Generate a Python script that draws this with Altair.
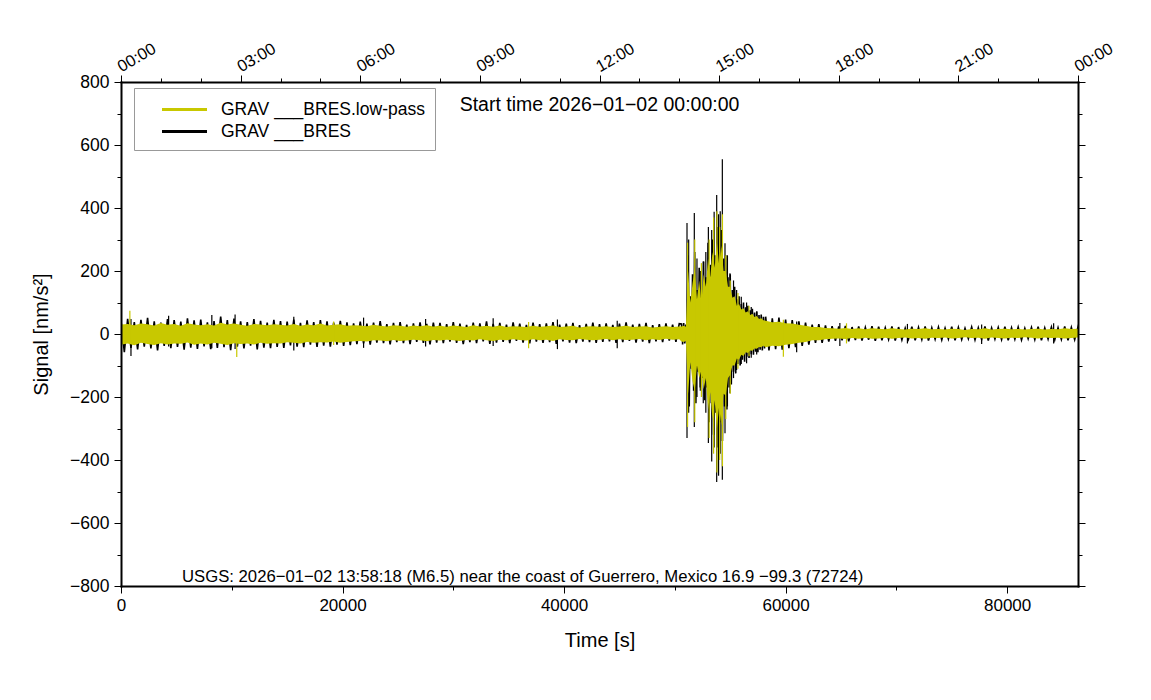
import altair as alt
import pandas as pd

# ---------------- data ----------------
# trace extremes (nm/s^2) on a time grid (s): max at each grid time, min half a step later
pre_t = list(range(0, 50401, 600))          # 85 samples
event_t = list(range(50600, 58001, 200))    # 38 samples
post_t = list(range(58200, 86401, 600))     # 48 samples

black_hi_pre = [42, 48, 38, 45, 51, 40, 36, 47, 44, 39, 50, 43,
                46, 37, 41, 55, 44, 49, 40, 38, 47, 42, 36, 45,
                41, 39, 46, 35, 43, 38, 44, 40, 36, 42, 37, 34,
                39, 33, 36, 41, 31, 35, 38, 30, 34, 37, 32, 36,
                35, 31, 38, 33, 29, 36, 34, 40, 32, 35, 30, 37,
                33, 29, 36, 31, 34, 38, 30, 33, 35, 28, 32, 36,
                31, 34, 29, 33, 37, 30, 32, 35, 28, 31, 34, 30, 33]
black_lo_pre = [-58, -44, -49, -40, -46, -52, -38, -45, -41, -50, -43, -47,
                -39, -48, -44, -42, -51, -40, -46, -37, -49, -43, -45, -41,
                -44, -36, -40, -42, -34, -41, -37, -40, -34, -38, -35, -32,
                -30, -34, -27, -29, -33, -26, -29, -32, -25, -28, -33, -27,
                -29, -24, -28, -32, -26, -29, -23, -31, -27, -25, -29, -22,
                -27, -30, -24, -28, -26, -31, -23, -27, -29, -24, -26, -28,
                -25, -23, -28, -26, -22, -27, -24, -29, -23, -26, -21, -25, -24]
yellow_hi_pre = [30, 32, 28, 33, 31, 27, 35, 29, 32, 26, 34, 30,
                 28, 31, 27, 36, 30, 33, 29, 26, 32, 30, 28, 31,
                 29, 27, 32, 26, 30, 28, 33, 27, 29, 31, 26, 28,
                 27, 25, 29, 26, 24, 28, 26, 23, 27, 25, 28, 24,
                 26, 23, 27, 25, 22, 28, 24, 26, 23, 27, 22, 25,
                 24, 22, 26, 23, 25, 27, 22, 24, 26, 21, 24, 25,
                 23, 25, 22, 24, 26, 22, 24, 25, 21, 23, 25, 22, 24]
yellow_lo_pre = [-34, -30, -36, -28, -32, -35, -29, -33, -30, -31, -27, -34,
                 -30, -33, -28, -31, -35, -29, -32, -30, -33, -28, -31, -29,
                 -30, -26, -28, -30, -25, -28, -26, -27, -24, -28, -25, -23,
                 -22, -24, -20, -21, -23, -19, -22, -21, -18, -20, -23, -19,
                 -21, -18, -20, -22, -19, -21, -17, -20, -22, -18, -20, -17,
                 -19, -21, -17, -20, -18, -22, -17, -19, -20, -16, -18, -20,
                 -18, -16, -20, -17, -19, -18, -16, -20, -17, -19, -15, -18, -17]

black_hi_event = [32, 35, 30, 250, 120, 190, 260, 140, 210, 120, 230, 180, 290,
                  220, 300, 250, 340, 260, 330, 240, 250, 180, 190,
                  140, 150, 110, 120, 95, 100, 85, 90, 75, 80,
                  68, 72, 60, 62, 55]
black_lo_event = [-33, -30, -31, -230, -110, -180, -220, -120, -170, -140, -210, -170, -280,
                  -220, -320, -250, -360, -280, -340, -230, -240, -170, -160,
                  -120, -125, -95, -100, -82, -88, -72, -76, -64, -66,
                  -56, -58, -50, -52, -46]
yellow_hi_event = [24, 26, 23, 200, 100, 160, 210, 110, 170, 100, 190, 150, 240,
                   180, 260, 210, 290, 220, 280, 200, 200, 150, 150,
                   115, 120, 90, 95, 78, 82, 68, 72, 60, 64,
                   54, 57, 48, 50, 44]
yellow_lo_event = [-24, -25, -22, -190, -90, -150, -180, -100, -140, -115, -175, -140, -240,
                   -185, -270, -210, -300, -230, -290, -190, -195, -140, -130,
                   -100, -100, -78, -82, -66, -70, -58, -60, -52, -53,
                   -46, -47, -41, -42, -37]

black_hi_post = [55, 50, 52, 46, 44, 40, 36, 30, 31, 27, 25, 24, 26, 22, 24, 21,
                 25, 23, 20, 24, 22, 19, 23, 21, 24, 20, 22, 19, 23, 21, 18, 22,
                 20, 24, 19, 21, 23, 20, 22, 18, 21, 23, 19, 22, 20, 24, 21, 22]
black_lo_post = [-52, -48, -50, -45, -42, -38, -34, -28, -28, -24, -22, -20, -23, -19, -21, -18,
                 -22, -20, -17, -21, -19, -16, -20, -18, -21, -17, -19, -16, -20, -18, -15, -19,
                 -17, -21, -16, -18, -20, -17, -19, -15, -18, -20, -16, -19, -17, -20, -18, -16]
yellow_hi_post = [42, 37, 39, 34, 33, 29, 26, 22, 22, 19, 18, 17, 19, 16, 18, 15,
                  18, 17, 15, 18, 16, 14, 17, 16, 18, 15, 16, 14, 17, 16, 13, 16,
                  15, 18, 14, 16, 17, 15, 16, 14, 16, 17, 14, 16, 15, 18, 16, 17]
yellow_lo_post = [-42, -37, -39, -34, -32, -28, -25, -20, -20, -17, -15, -14, -16, -13, -15, -12,
                  -15, -14, -12, -15, -13, -11, -14, -13, -15, -12, -13, -11, -14, -13, -10, -13,
                  -12, -15, -11, -13, -14, -12, -13, -10, -12, -14, -11, -13, -12, -14, -13, -11]

# individual large excursions (time s, max, min)
spike_t_black = [900, 4300, 8200, 10300, 15600, 21900, 27500, 33600, 39400, 44800,
                 51100, 51250, 51760, 52000, 52300, 52570, 52800, 53030, 53330, 53550,
                 53780, 53950, 54100, 54290, 54530, 54750, 54980, 55300, 55580, 56000,
                 56480, 56900, 57390, 61000, 64900, 71000, 77700, 84200]
spike_hi_black = [48, 58, 60, 62, 55, 52, 48, 50, 46, 42,
                  352, 300, 384, 240, 200, 230, 260, 340, 330, 388,
                  441, 380, 390, 555, 288, 250, 193, 170, 140, 118,
                  100, 86, 70, 40, 35, 32, 30, 34]
spike_lo_black = [-70, -40, -45, -48, -52, -44, -40, -38, -48, -45,
                  -330, -250, -295, -200, -180, -220, -250, -346, -405, -360,
                  -470, -450, -380, -463, -315, -230, -188, -140, -114, -95,
                  -93, -75, -65, -58, -38, -30, -32, -30]
spike_t_yellow = [800, 10450, 19200, 36800, 51150, 51800, 52400, 53100, 53500, 53800,
                  54050, 54300, 54600, 55000, 55700, 56700, 59800, 65500]
spike_hi_yellow = [74, 28, 40, 38, 290, 300, 225, 300, 370, 390,
                   340, 380, 250, 170, 130, 90, 45, 34]
spike_lo_yellow = [-30, -73, -35, -45, -295, -280, -200, -330, -380, -440,
                   -400, -420, -270, -190, -110, -70, -72, -30]

series_names = ["GRAV ___BRES.low-pass", "GRAV ___BRES"]
series_colors = ["#c8c800", "#000000"]

x_major = [0, 20000, 40000, 60000, 80000]
x_minor = [10000, 30000, 50000, 70000]
hour_major = [0, 10800, 21600, 32400, 43200, 54000, 64800, 75600, 86400]
hour_minor = [3600 * h for h in range(25)]
y_major = [-800, -600, -400, -200, 0, 200, 400, 600, 800]
y_minor = [-700, -500, -300, -100, 100, 300, 500, 700]

start_label = "Start time 2026\u221201\u221202 00:00:00"
event_label = "USGS: 2026\u221201\u221202 13:58:18 (M6.5) near the coast of Guerrero, Mexico 16.9 \u221299.3 (72724)"

# ---------------- build tables ----------------
grid_t = pre_t + event_t + post_t
half_step = [300] * len(pre_t) + [100] * len(event_t) + [300] * len(post_t)
bhi = black_hi_pre + black_hi_event + black_hi_post
blo = black_lo_pre + black_lo_event + black_lo_post
yhi = yellow_hi_pre + yellow_hi_event + yellow_hi_post
ylo = yellow_lo_pre + yellow_lo_event + yellow_lo_post

band = pd.DataFrame({"t": grid_t, "yhi": yhi, "ylo": ylo})

trace_t, trace_v = [], []
for t, h, hi, lo in zip(grid_t, half_step, bhi, blo):
    trace_t += [t, t + h]
    trace_v += [hi, lo]
trace = pd.DataFrame({"t": trace_t, "v": trace_v})

spk_b = pd.DataFrame({"t": spike_t_black, "hi": spike_hi_black, "lo": spike_lo_black,
                      "series": series_names[1]})
spk_y = pd.DataFrame({"t": spike_t_yellow, "hi": spike_hi_yellow, "lo": spike_lo_yellow,
                      "series": series_names[0]})

W, H = 957, 504
FONT = "Liberation Sans"
xs = alt.Scale(domain=[0, 86400], nice=False, zero=False)
ys = alt.Scale(domain=[-800, 800], nice=False, zero=False)

common = dict(labelFont=FONT, titleFont=FONT, labelColor="black", titleColor="black",
              tickColor="black", domainColor="black", grid=False, labelFlush=False,
              labelOverlap=False, titleFontWeight="normal")

ax_bottom_major = alt.Axis(orient="bottom", values=x_major, format="d", tickSize=7, tickWidth=1,
                           domain=True, domainWidth=2, domainCap="square", labelFontSize=17,
                           labelPadding=4, title="Time [s]", titleFontSize=20, titlePadding=17,
                           zindex=1, **common)
ax_bottom_minor = alt.Axis(orient="bottom", values=x_minor, tickSize=4, tickWidth=1, domain=False,
                           labels=False, title=None, **common)
ax_top_major = alt.Axis(orient="top", values=hour_major, tickSize=7, tickWidth=1, domain=True,
                        domainWidth=2, domainCap="square", labelFontSize=16.5, labelAngle=330,
                        labelAlign="left", labelBaseline="alphabetic", labelPadding=3,
                        labelExpr="(floor(datum.value/3600) % 24 < 10 ? '0' : '') + (floor(datum.value/3600) % 24) + ':00'",
                        title=None, zindex=1, **common)
ax_top_minor = alt.Axis(orient="top", values=hour_minor, tickSize=4, tickWidth=1, domain=False,
                        labels=False, title=None, **common)
ax_left_major = alt.Axis(orient="left", values=y_major, format="d", tickSize=7, tickWidth=1,
                         domain=True, domainWidth=2, domainCap="square", labelFontSize=17.5,
                         labelPadding=5, title="Signal [nm/s\u00b2]", titleFontSize=20,
                         titlePadding=18, zindex=1, **common)
ax_left_minor = alt.Axis(orient="left", values=y_minor, tickSize=4, tickWidth=1, domain=False,
                         labels=False, title=None, **common)
ax_right_major = alt.Axis(orient="right", values=y_major, tickSize=7, tickWidth=1, domain=True,
                          domainWidth=2, domainCap="square", labels=False, title=None,
                          zindex=1, **common)
ax_right_minor = alt.Axis(orient="right", values=y_minor, tickSize=4, tickWidth=1, domain=False,
                          labels=False, title=None, **common)

color = alt.Color("series:N",
                  scale=alt.Scale(domain=series_names, range=series_colors),
                  legend=alt.Legend(orient="none", legendX=13, legendY=6, title=None,
                                    symbolType="M-2.25,0H2.25", symbolSize=400,
                                    symbolStrokeWidth=3, symbolFillColor="transparent",
                                    labelFont=FONT, labelFontSize=17.5, labelColor="black",
                                    padding=10, symbolOffset=29, labelOffset=25, rowPadding=2,
                                    strokeColor="#999999", fillColor="white", labelLimit=400))

black_trace = alt.Chart(trace).mark_line(color="black", strokeWidth=1.6, clip=True).encode(
    x=alt.X("t:Q", scale=xs, axis=ax_bottom_major),
    y=alt.Y("v:Q", scale=ys, axis=ax_left_major),
)
black_spikes = alt.Chart(spk_b).mark_rule(strokeWidth=1.2, clip=True).encode(
    x=alt.X("t:Q", scale=xs, axis=ax_top_minor),
    y=alt.Y("hi:Q", scale=ys, axis=ax_right_minor),
    y2="lo:Q",
    color=color,
)
yellow_area = alt.Chart(band).mark_area(color=series_colors[0], interpolate="linear", clip=True).encode(
    x=alt.X("t:Q", scale=xs, axis=ax_top_major),
    y=alt.Y("yhi:Q", scale=ys, axis=ax_right_major),
    y2="ylo:Q",
)
yellow_spikes = alt.Chart(spk_y).mark_rule(strokeWidth=1.2, clip=True).encode(
    x=alt.X("t:Q", scale=xs, axis=ax_bottom_minor),
    y=alt.Y("hi:Q", scale=ys, axis=ax_left_minor),
    y2="lo:Q",
    color=color,
)
start_txt = alt.Chart(pd.DataFrame({"txt": [start_label]})).mark_text(
    font=FONT, fontSize=19.5, align="center", baseline="middle", color="black"
).encode(text="txt:N", x=alt.value(W / 2), y=alt.value(23))
event_txt = alt.Chart(pd.DataFrame({"txt": [event_label]})).mark_text(
    font=FONT, fontSize=16.7, align="left", baseline="middle", color="black"
).encode(text="txt:N", x=alt.value(61), y=alt.value(495))

chart = alt.layer(
    black_trace, black_spikes, yellow_area, yellow_spikes, start_txt, event_txt
).resolve_axis(x="independent", y="independent").properties(
    width=W, height=H,
    autosize=alt.AutoSizeParams(type="none"),
    padding={"left": 113, "top": 74, "right": 60, "bottom": 90},
    background="white",
).configure_view(stroke=None)

chart.save("out.html", embed_options={"renderer": "svg", "actions": False})
